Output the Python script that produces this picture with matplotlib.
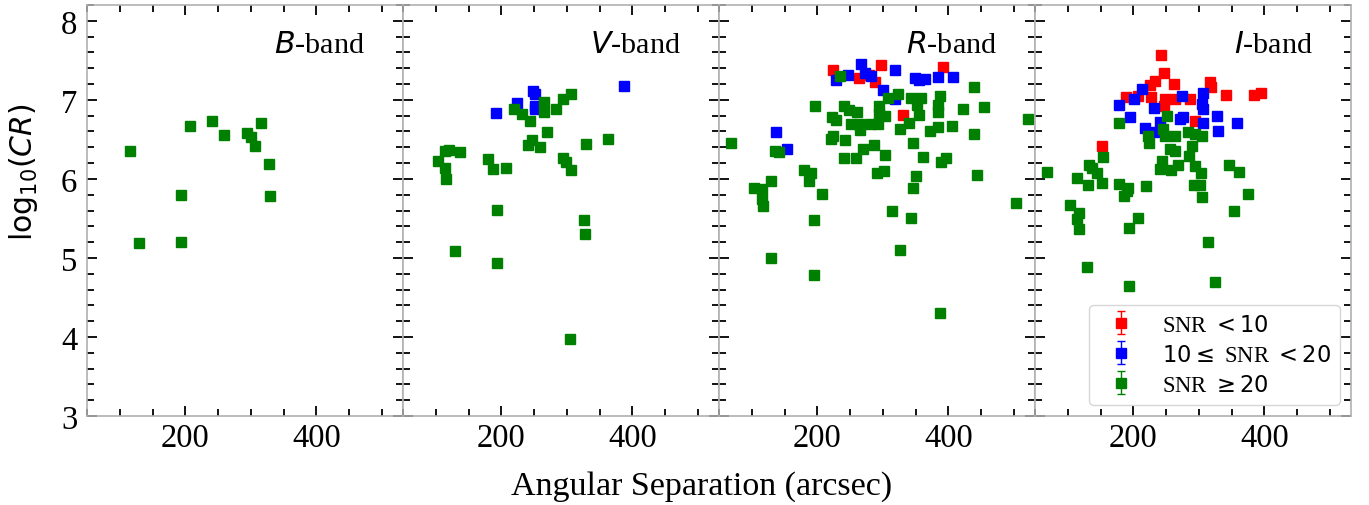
import matplotlib
matplotlib.use("Agg")
import matplotlib.pyplot as plt
from matplotlib.ticker import MultipleLocator

plt.rcParams['font.family'] = ['Liberation Serif', 'DejaVu Serif']
plt.rcParams['mathtext.fontset'] = 'dejavusans'

bands = ["B", "V", "R", "I"]

# ---- B band ----
B_green_x = [116, 129.5, 193.8, 193.8, 207, 241, 259.5, 293.8, 299.5, 306, 315, 327, 328.6]
B_green_y = [6.35, 5.19, 5.79, 5.20, 6.67, 6.73, 6.56, 6.58, 6.53, 6.42, 6.71, 6.19, 5.78]
B_blue_x, B_blue_y = [], []
B_red_x, B_red_y = [], []

# ---- V band ----
V_green_x = [103.4, 114.7, 119.5, 114.7, 116.3, 136.4, 129.2, 179.3, 187, 206.7, 193.8, 193.8,
             219.6, 231, 243, 246.5, 240.3, 259, 269.8, 264.6, 264.6, 282.7, 294, 306.5,
             294, 299, 306, 329, 362.8, 326, 328, 305]
V_green_y = [6.23, 6.35, 6.37, 6.14, 6.00, 6.34, 5.09, 6.25, 6.13, 6.14, 5.61, 4.93,
             6.89, 6.82, 6.73, 6.49, 6.43, 6.40, 6.59, 6.97, 6.84, 6.89, 7.01, 7.08,
             6.26, 6.21, 6.11, 6.44, 6.50, 5.48, 5.30, 3.98]
V_blue_x = [191.7, 223.8, 248.6, 251.7, 251.7, 250.6, 387]
V_blue_y = [6.83, 6.96, 7.11, 7.07, 6.92, 6.88, 7.18]
V_red_x, V_red_y = [], []

# ---- R band ----
R_green_x = [68.6, 195.9, 135.6, 141.8, 103, 116, 116, 117, 130, 129.4, 179.4, 190.7, 187, 207,
             194.3, 194.3, 223, 229, 220.6, 224, 241, 248.9, 261, 242.5, 251, 263.4, 264.5, 280,
             292.3, 293.3, 294.3, 303.6, 307.7, 323, 286, 269.6, 240.7, 259.3, 303, 291.7, 301.5,
             314, 325.8, 325.8, 340, 355.7, 342.8, 358.2, 352.6, 345.4, 350, 345.4, 342.8, 361.9,
             371.6, 384.5, 384, 384.5, 386.6, 389.2, 396.9, 386.6, 406, 421.6, 439.7, 439.7,
             443.3, 454.6, 502.6, 520.6, 234]
R_green_y = [6.45, 6.92, 6.35, 6.34, 5.89, 5.87, 5.75, 5.66, 5.97, 5.00, 6.11, 6.08, 5.97, 5.81,
             5.48, 4.79, 6.78, 6.75, 6.50, 6.54, 6.92, 6.87, 6.85, 6.49, 6.70, 6.69, 6.62, 6.69,
             6.70, 6.92, 6.82, 6.80, 7.02, 7.07, 6.43, 6.38, 6.26, 6.26, 6.30, 6.08, 6.10,
             5.59, 5.10, 6.63, 6.71, 6.81, 7.02, 7.02, 6.93, 6.46, 6.04, 5.89, 5.50, 6.28,
             6.60, 6.66, 6.84, 6.93, 7.05, 6.21, 6.26, 4.30, 6.67, 6.89, 7.16, 6.57,
             6.05, 6.91, 5.69, 6.76, 7.30]
R_blue_x = [137.1, 153.6, 227.8, 247.4, 267, 273, 282.5, 318, 299.5, 318.6, 349, 355.7, 364.4,
            384.5, 407.2]
R_blue_y = [6.59, 6.38, 7.25, 7.31, 7.45, 7.34, 7.30, 7.38, 7.13, 7.01, 7.28, 7.25, 7.26,
            7.29, 7.29]
R_red_x = [223.2, 262.9, 278.4, 287.6, 297.4, 331.4, 391]
R_red_y = [7.38, 7.28, 7.32, 7.23, 7.44, 6.81, 7.42]

# ---- I band ----
I_green_x = [68.6, 178.4, 222.2, 223.3, 252, 245.4, 248, 263.4, 255.6, 263.4, 284, 294.3, 304.6,
             289.2, 285.1, 244.3, 240.2, 258.2, 268.6, 294.3, 303.6, 345.9, 361.3, 374.2, 353.6,
             291.8, 302, 304.6, 313.9, 325.3, 219.6, 191.2, 186.1, 178.4, 206.7, 193.8, 193.8,
             129.4, 103.6, 116.5, 114, 116.5, 113.9, 130.4, 132, 137.1, 144.8, 151.5, 153.6, 190.2]
I_green_y = [6.09, 6.71, 6.54, 6.46, 6.79, 6.63, 6.54, 6.54, 6.38, 6.35, 6.59, 6.57, 6.54,
             6.42, 6.29, 6.23, 6.12, 6.11, 6.18, 6.16, 6.08, 6.18, 6.09, 5.81, 5.59,
             5.92, 5.92, 5.77, 5.20, 4.70, 5.91, 5.88, 5.78, 5.94, 5.51, 5.38, 4.64,
             4.88, 5.67, 5.57, 5.49, 5.36, 6.01, 5.92, 6.18, 6.14, 6.08, 5.95, 6.28, 5.85]
I_blue_x = [213.4, 178.4, 195.4, 201.5, 231.4, 218, 231.4, 241.2, 273.7, 276.3, 306.5, 306.5,
            304, 327, 329.6, 358.2, 306.5, 270.6]
I_blue_y = [7.14, 6.93, 6.78, 7.01, 6.90, 6.65, 6.59, 6.72, 7.05, 6.78, 7.09, 6.88,
            6.95, 6.80, 6.61, 6.71, 6.71, 6.76]
I_red_x = [242.8, 246.9, 232.5, 224.7, 262.4, 188.7, 206.7, 227.3, 248, 263.4, 286.6, 246.9,
           317.5, 319, 341.8, 384.5, 394.8, 294.3, 152.6]
I_red_y = [7.57, 7.34, 7.24, 7.19, 7.20, 7.03, 7.05, 7.03, 7.01, 7.01, 7.01, 6.92,
           7.22, 7.16, 7.06, 7.06, 7.09, 6.73, 6.41]

data = {
    "B": (B_red_x, B_red_y, B_blue_x, B_blue_y, B_green_x, B_green_y),
    "V": (V_red_x, V_red_y, V_blue_x, V_blue_y, V_green_x, V_green_y),
    "R": (R_red_x, R_red_y, R_blue_x, R_blue_y, R_green_x, R_green_y),
    "I": (I_red_x, I_red_y, I_blue_x, I_blue_y, I_green_x, I_green_y),
}
err_red, err_blue, err_green = 0.04, 0.03, 0.01
labels = [r"SNR $<10$", r"$10\leq$ SNR $<20$", r"SNR $\geq20$"]
colors = ["red", "blue", "green"]
errs = [err_red, err_blue, err_green]

fig, axes = plt.subplots(1, 4, figsize=(13.69, 5.06), dpi=100, sharey=True, sharex=True)
fig.subplots_adjust(left=87/1369, right=1351/1369, top=1-6/506, bottom=1-417/506, wspace=0)

for ax, band in zip(axes, bands):
    d = data[band]
    for k in range(3):
        xs, ys = d[2*k], d[2*k+1]
        if len(xs) == 0:
            ax.errorbar([], [], yerr=[], fmt='s', color=colors[k], ms=7.5, capsize=3,
                        elinewidth=1, label=labels[k])
            continue
        ax.errorbar(xs, ys, yerr=errs[k], fmt='s', color=colors[k], ms=7.5, capsize=3,
                    elinewidth=1, label=labels[k])
    ax.set_xlim(50, 532)
    ax.set_ylim(3, 8.2)
    ax.xaxis.set_major_locator(MultipleLocator(200))
    ax.xaxis.set_minor_locator(MultipleLocator(50))
    ax.yaxis.set_major_locator(MultipleLocator(1))
    ax.yaxis.set_minor_locator(MultipleLocator(0.2))
    ax.tick_params(which='both', direction='in', top=True, right=True, labelsize=23.5, width=1.3)
    ax.tick_params(axis='x', which='major', pad=5)
    ax.tick_params(axis='y', which='major', pad=7)
    ax.tick_params(which='major', length=7)
    ax.tick_params(which='minor', length=5)
    for s in ax.spines.values():
        s.set_color('#b0b0b0')
        s.set_linewidth(1.2)
    ax.text(0.88, 0.935, rf"${band}$-band", transform=ax.transAxes, ha='right', va='top',
            fontsize=21.7)

fig.text(23/1369, 1-172/506, r"$\mathrm{log}_{10}(CR)$", rotation=90, ha='center', va='center',
         fontsize=21.5, family='DejaVu Sans')
fig.text(702/1369, 4/506, "Angular Separation (arcsec)", ha='center', va='bottom', fontsize=24.5)

axes[3].legend(loc='lower right', fontsize=16.3, frameon=True, handletextpad=0.8,
               borderpad=0.4, labelspacing=0.4, handlelength=2.0, borderaxespad=0.5)

fig.savefig("out.png", dpi=100)
